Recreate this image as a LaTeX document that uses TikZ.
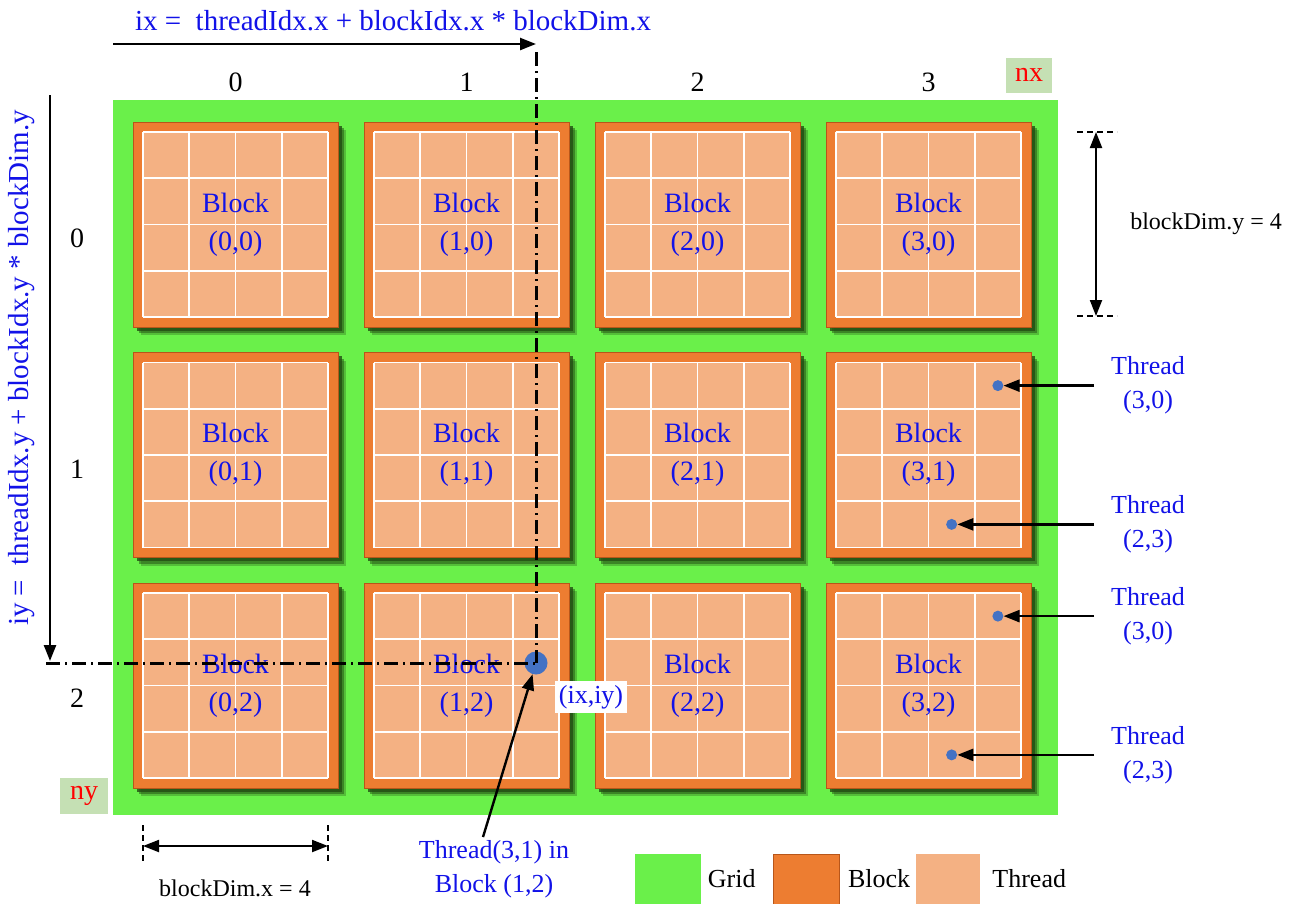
\documentclass[tikz,border=0pt]{standalone}
\usepackage{fontspec}
\setmainfont{Liberation Serif}
\usepackage{xcolor}
\usepackage{tikz}
\usetikzlibrary{arrows.meta,positioning,shadows}

\definecolor{gridGreen}{HTML}{6AF04A}
\definecolor{blockOrange}{HTML}{ED7D31}
\definecolor{blockEdge}{HTML}{B8561A}
\definecolor{threadPeach}{HTML}{F4B183}
\definecolor{shadowGreen}{HTML}{234D14}
\definecolor{tagGreen}{HTML}{C5E0B4}
\definecolor{textBlue}{HTML}{1212E8}
\definecolor{dotBlue}{HTML}{4472C4}

\begin{document}
\begin{tikzpicture}[x=1pt, y=-1pt,
  blockBox/.style={fill=blockOrange, draw=blockEdge, line width=0.8pt, minimum size=205pt, inner sep=0pt,
    align=center, text=textBlue, font=\fontsize{28}{38}\selectfont,
    drop shadow={shadow xshift=8pt, shadow yshift=-8pt, fill=shadowGreen, opacity=.3},
    drop shadow={shadow xshift=6pt, shadow yshift=-6pt, fill=shadowGreen, opacity=.5},
    drop shadow={shadow xshift=3.5pt, shadow yshift=-3.5pt, fill=shadowGreen, opacity=.8},
    path picture={
      \fill[threadPeach] ([shift={(-92.5pt,-92.5pt)}]path picture bounding box.center)
        rectangle ([shift={(92.5pt,92.5pt)}]path picture bounding box.center);
      \foreach \k in {0,...,4}{
        \draw[white, line width=1.6pt] ([shift={(-92.5pt+46.25pt*\k,-92.5pt)}]path picture bounding box.center) -- ++(0pt,185pt);
        \draw[white, line width=1.6pt] ([shift={(-92.5pt,-92.5pt+46.25pt*\k)}]path picture bounding box.center) -- ++(185pt,0pt);
      }
    }},
  idxLabel/.style={font=\fontsize{28}{34}\selectfont},
  formula/.style={text=textBlue, font=\fontsize{29}{34}\selectfont, inner sep=2pt},
  tag/.style={fill=tagGreen, text=red, font=\fontsize{28}{34}\selectfont, inner sep=0pt},
  threadLabel/.style={text=textBlue, align=center, font=\fontsize{26}{34}\selectfont, inner sep=3pt},
  threadDot/.style={circle, fill=dotBlue, minimum size=11pt, inner sep=0pt},
  dimLabel/.style={font=\fontsize{24}{28}\selectfont},
  legendBox/.style={minimum width=66pt, minimum height=50pt, inner sep=0pt},
  legendText/.style={font=\fontsize{26}{30}\selectfont, inner sep=3pt},
  arrow/.style={-{Triangle[length=16pt,width=12pt]}, line width=2.4pt},
  dimArrow/.style={{Triangle[length=16pt,width=12pt]}-{Triangle[length=16pt,width=12pt]}, line width=2pt},
  dashDot/.style={line width=3pt, dash pattern=on 14pt off 5pt on 2pt off 5pt},
  tick/.style={line width=1.4pt, dash pattern=on 6pt off 4pt}
]
\useasboundingbox (0,0) rectangle (1303,903);

\node[fill=gridGreen, minimum width=945pt, minimum height=715pt, inner sep=0pt] (grid) at (585.5,457.5) {};

\foreach \c in {0,...,3}
  \foreach \r in {0,...,2}
    \node[blockBox] (b\c\r) at (235.5+231*\c, 224.5+230.5*\r) {Block\\(\c,\r)};

\foreach \c in {0,...,3}
  \node[idxLabel] (col\c) at (235.5+231*\c, 82) {\c};
\foreach \r/\y in {0/238,1/469,2/698}
  \node[idxLabel] (row\r) at (77,\y) {\r};

\node[tag, minimum width=46pt, minimum height=35pt] (nx) at (1029,75) {nx};
\node[tag, minimum width=48pt, minimum height=36pt] (ny) at (84,796) {ny};

% index formulas
\node[formula] (ixText) at (393,21) {ix =\ \ threadIdx.x + blockIdx.x * blockDim.x};
\node[formula, rotate=90] (iyText) at (22,368) {iy =\ \ threadIdx.y + blockIdx.y * blockDim.y};
\coordinate (ixStart) at (113,44);
\coordinate (ixEnd) at (536,44);
\coordinate (iyStart) at (50,95);
\coordinate (iyEnd) at (50,661);
\draw[arrow] (ixStart) -- (ixEnd);
\draw[arrow] (iyStart) -- (iyEnd);

\node[circle, fill=dotBlue, minimum size=23pt, inner sep=0pt] (ixy) at (536,663) {};
\coordinate (ixDrop) at (536,52);
\coordinate (iyFoot) at (46,663);
\draw[dashDot] (ixDrop) -- (ixy.center);
\draw[dashDot] (iyFoot) -- (ixy.center);
\node[text=textBlue, fill=white, font=\fontsize{26}{30}\selectfont, inner sep=4pt] (ixyLabel) at (591,697) {(ix,iy)};

\node[threadLabel] (t31Label) at (494,869) {Thread(3,1) in\\Block (1,2)};
\draw[arrow] ([xshift=-11pt]t31Label.north) -- (ixy);

% threads picked out on the right
\coordinate (labelCol) at (1148,0);
\node[threadDot] (d31a) at ([shift={(69.375,-69.375)}]b31.center) {};
\node[threadDot] (d31b) at ([shift={(23.125,69.375)}]b31.center) {};
\node[threadDot] (d32a) at ([shift={(69.375,-69.375)}]b32.center) {};
\node[threadDot] (d32b) at ([shift={(23.125,69.375)}]b32.center) {};
\node[threadLabel] (th31a) at (d31a -| labelCol) {Thread\\(3,0)};
\node[threadLabel] (th31b) at (d31b -| labelCol) {Thread\\(2,3)};
\node[threadLabel] (th32a) at (d32a -| labelCol) {Thread\\(3,0)};
\node[threadLabel] (th32b) at (d32b -| labelCol) {Thread\\(2,3)};
\draw[arrow] ([xshift=-14pt]th31a.west) -- (d31a);
\draw[arrow] ([xshift=-14pt]th31b.west) -- (d31b);
\draw[arrow] ([xshift=-14pt]th32a.west) -- (d32a);
\draw[arrow] ([xshift=-14pt]th32b.west) -- (d32b);

% block dimensions
\coordinate (dyTop) at (1096,132);
\coordinate (dyBot) at (1096,316);
\draw[tick] ([xshift=-19pt]dyTop) -- ([xshift=21pt]dyTop);
\draw[tick] ([xshift=-19pt]dyBot) -- ([xshift=21pt]dyBot);
\draw[dimArrow] (dyTop) -- (dyBot);
\node[dimLabel] (dyLabel) at (1206,224) {blockDim.y = 4};

\coordinate (dxLeft) at (143,846);
\coordinate (dxRight) at (328,846);
\draw[tick] ([yshift=21pt]dxLeft) -- ([yshift=-17pt]dxLeft);
\draw[tick] ([yshift=21pt]dxRight) -- ([yshift=-17pt]dxRight);
\draw[dimArrow] (dxLeft) -- (dxRight);
\node[dimLabel] (dxLabel) at (235,888) {blockDim.x = 4};

% legend
\node[legendBox, fill=gridGreen] (lgGrid) at (667.5,879) {};
\node[legendText, right=4pt of lgGrid] (lgGridText) {Grid};
\node[legendBox, fill=blockOrange, draw=blockEdge, line width=0.8pt] (lgBlock) at (806.5,879) {};
\node[legendText, right=5pt of lgBlock] (lgBlockText) {Block};
\node[legendBox, fill=threadPeach, minimum width=64pt] (lgThread) at (948,879) {};
\node[legendText, right=9pt of lgThread] (lgThreadText) {Thread};
\end{tikzpicture}
\end{document}
